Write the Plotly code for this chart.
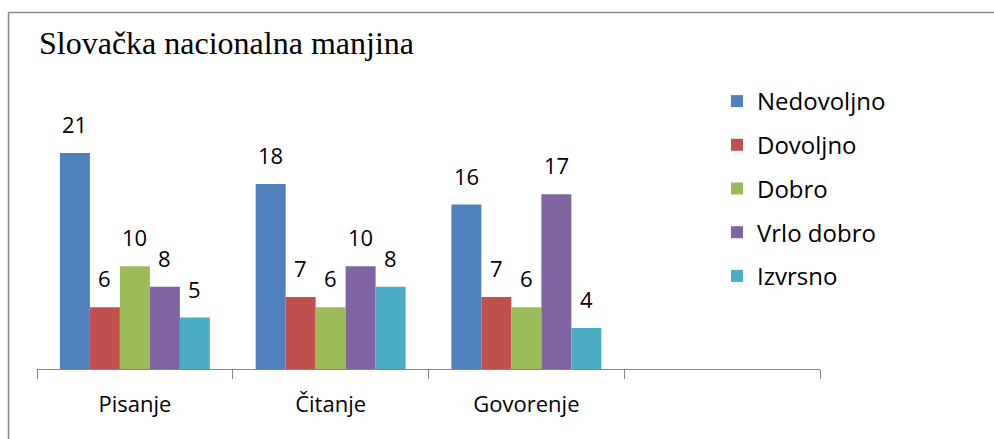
import plotly.graph_objects as go

categories = ["Pisanje", "Čitanje", "Govorenje"]
axis_slots = ["Pisanje", "Čitanje", "Govorenje", " "]
series_names = ["Nedovoljno", "Dovoljno", "Dobro", "Vrlo dobro", "Izvrsno"]
nedovoljno = [21, 18, 16]
dovoljno = [6, 7, 7]
dobro = [10, 6, 6]
vrlo_dobro = [8, 10, 17]
izvrsno = [5, 8, 4]
series_values = [nedovoljno, dovoljno, dobro, vrlo_dobro, izvrsno]
colors = ["#4F81BD", "#C0504D", "#9BBB59", "#8064A2", "#4BACC6"]

FONT = "Open Sans"
BARGAP = 0.234

fig = go.Figure()
for i, (name, vals, col) in enumerate(zip(series_names, series_values, colors)):
    fig.add_trace(go.Bar(
        x=categories, y=vals, name=name, marker_color=col,
        marker_line_width=0, legendgroup=name,
    ))

# data labels above bars
n = len(series_names)
w = (1 - BARGAP) / n
for i, vals in enumerate(series_values):
    off = -(1 - BARGAP) / 2 + w * (i + 0.5)
    for j, v in enumerate(vals):
        fig.add_annotation(
            x=j + off, y=v, xref="x", yref="y", text=str(v), showarrow=False,
            yanchor="bottom", yshift=12,
            font=dict(family=FONT, size=22, color="#000000"),
        )

L, R, T, B = 37, 174, 112, 70
W, H = 994, 439
pw, ph = W - L - R, H - T - B

def px_to_paper_x(px):
    return (px - L) / pw

def px_to_paper_y(py):
    return (H - B - py) / ph

border = dict(color="#878787", width=1.5)
fig.add_shape(type="line", xref="paper", yref="paper",
              x0=px_to_paper_x(8.5), x1=px_to_paper_x(994),
              y0=px_to_paper_y(12.5), y1=px_to_paper_y(12.5), line=border)
fig.add_shape(type="line", xref="paper", yref="paper",
              x0=px_to_paper_x(8.5), x1=px_to_paper_x(8.5),
              y0=px_to_paper_y(12.5), y1=px_to_paper_y(439), line=border)

fig.update_layout(
    width=W, height=H,
    margin=dict(l=L, r=R, t=T, b=B, pad=0),
    paper_bgcolor="white", plot_bgcolor="white",
    barmode="group", bargap=BARGAP, bargroupgap=0,
    title=dict(text="Slovačka nacionalna manjina", x=39 / W, xanchor="left",
               y=1 - 43 / H, yanchor="middle", xref="container", yref="container",
               font=dict(family="Liberation Serif", size=32, color="#000000")),
    font=dict(family=FONT, size=22, color="#000000"),
    legend=dict(x=px_to_paper_x(717), xanchor="left", y=px_to_paper_y(79), yanchor="top",
                font=dict(family=FONT, size=24, color="#000000"),
                tracegroupgap=9.5, bgcolor="rgba(0,0,0,0)", maxheight=330),
    showlegend=True,
)
fig.update_xaxes(
    type="category", categoryorder="array", categoryarray=axis_slots,
    range=[-0.5, 3.5], tickson="boundaries", ticks="outside", ticklen=9,
    tickcolor="#878787", tickwidth=1, showline=True, linecolor="#878787", linewidth=1,
    showgrid=False, zeroline=False, tickfont=dict(family=FONT, size=22, color="#000000"),
    ticklabelstandoff=16, fixedrange=True,
)
fig.update_yaxes(range=[0, 25], visible=False, showgrid=False, fixedrange=True)

fig.write_html("out.html", config={"displayModeBar": False},
               post_script="document.body.style.margin='0';")
